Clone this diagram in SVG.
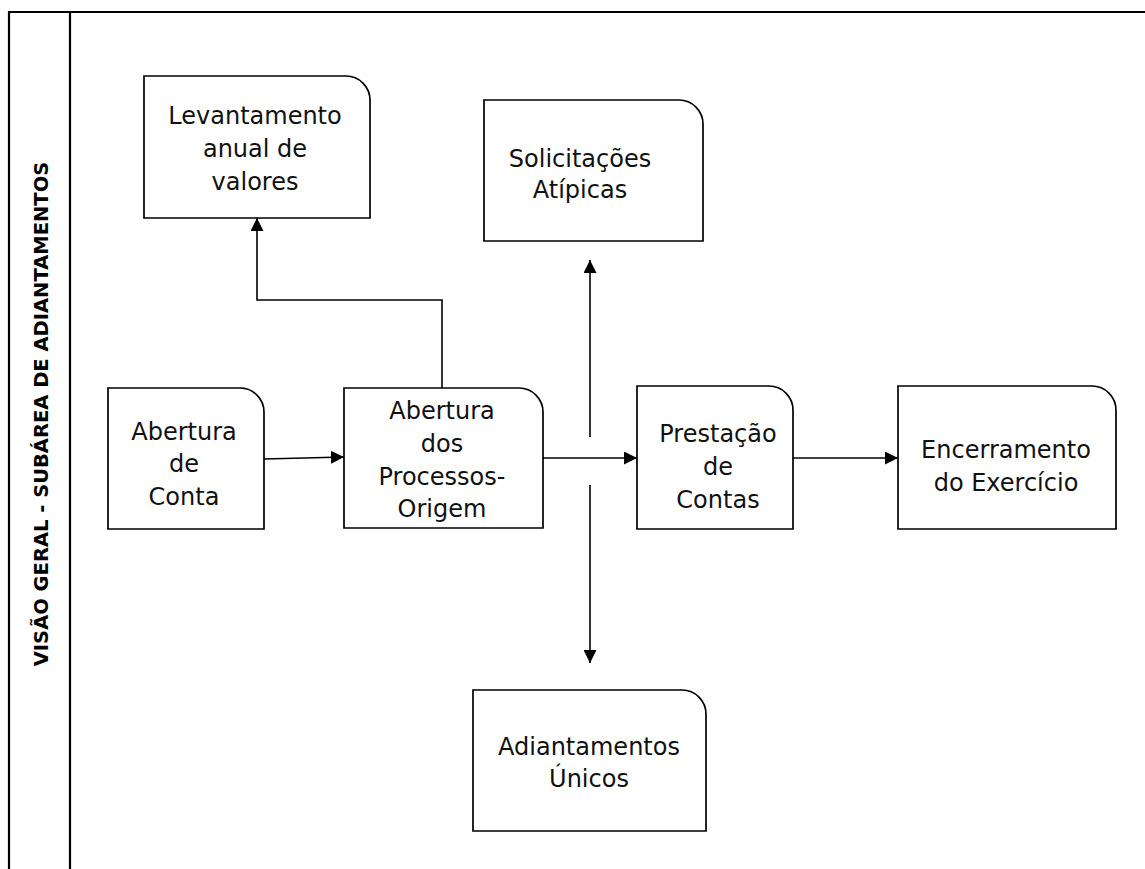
<svg xmlns="http://www.w3.org/2000/svg" width="1145" height="869" viewBox="0 0 1145 869">
  <style>
    .frame { fill: none; stroke: #000; stroke-width: 2.2; }
    .box { fill: #fff; stroke: #000; stroke-width: 1.7; }
    .lbl { font-family: "DejaVu Sans", "Liberation Sans", sans-serif; font-size: 24px; fill: #111; text-anchor: middle; }
    .title { font-family: "DejaVu Sans", "Liberation Sans", sans-serif; font-size: 19.5px; font-weight: bold; fill: #000; text-anchor: middle; }
    .wire { fill: none; stroke: #000; stroke-width: 1.6; }
  </style>
  <defs>
    <marker id="arrow" viewBox="0 0 10 10" refX="10" refY="5" markerWidth="13" markerHeight="13" markerUnits="userSpaceOnUse" orient="auto">
      <path d="M0,0 L10,5 L0,10 Z" fill="#000"/>
    </marker>
  </defs>

  <rect width="1145" height="869" fill="#fff"/>

  <!-- swimlane frame -->
  <g id="lane">
    <path class="frame" d="M9,869 V12 H1145"/>
    <line class="frame" x1="70" y1="12" x2="70" y2="869"/>
    <text class="title" transform="translate(48,414) rotate(-90)">VISÃO GERAL - SUBÁREA DE ADIANTAMENTOS</text>
  </g>

  <!-- connectors -->
  <g id="connectors">
    <path class="wire" d="M264,459 L344,457" marker-end="url(#arrow)"/>
    <path class="wire" d="M543,458 L637,458" marker-end="url(#arrow)"/>
    <path class="wire" d="M793,458 L898,458" marker-end="url(#arrow)"/>
    <path class="wire" d="M442,388 V300 H257 V218" marker-end="url(#arrow)"/>
    <path class="wire" d="M590,437 V260" marker-end="url(#arrow)"/>
    <path class="wire" d="M590,485 V663" marker-end="url(#arrow)"/>
  </g>

  <g id="levantamento">
    <path class="box" d="M144,76 H346 A24,24 0 0 1 370,100 V218 H144 Z"/>
    <text class="lbl" x="255" y="124">Levantamento</text>
    <text class="lbl" x="255" y="157">anual de</text>
    <text class="lbl" x="255" y="190">valores</text>
  </g>

  <g id="solicitacoes">
    <path class="box" d="M484,100 H679 A24,24 0 0 1 703,124 V241 H484 Z"/>
    <text class="lbl" x="580" y="167">Solicitações</text>
    <text class="lbl" x="580" y="198">Atípicas</text>
  </g>

  <g id="abertura-conta">
    <path class="box" d="M108,388 H240 A24,24 0 0 1 264,412 V529 H108 Z"/>
    <text class="lbl" x="184" y="440">Abertura</text>
    <text class="lbl" x="184" y="472">de</text>
    <text class="lbl" x="184" y="505">Conta</text>
  </g>

  <g id="abertura-processos">
    <path class="box" d="M344,388 H519 A24,24 0 0 1 543,412 V528 H344 Z"/>
    <text class="lbl" x="442" y="419">Abertura</text>
    <text class="lbl" x="442" y="452">dos</text>
    <text class="lbl" x="442" y="485">Processos-</text>
    <text class="lbl" x="442" y="517">Origem</text>
  </g>

  <g id="prestacao">
    <path class="box" d="M637,386 H769 A24,24 0 0 1 793,410 V529 H637 Z"/>
    <text class="lbl" x="718" y="442">Prestação</text>
    <text class="lbl" x="718" y="475">de</text>
    <text class="lbl" x="718" y="508">Contas</text>
  </g>

  <g id="encerramento">
    <path class="box" d="M898,386 H1092 A24,24 0 0 1 1116,410 V529 H898 Z"/>
    <text class="lbl" x="1006" y="458">Encerramento</text>
    <text class="lbl" x="1006" y="491">do Exercício</text>
  </g>

  <g id="adiantamentos">
    <path class="box" d="M473,690 H682 A24,24 0 0 1 706,714 V831 H473 Z"/>
    <text class="lbl" x="589" y="755">Adiantamentos</text>
    <text class="lbl" x="589" y="787">Únicos</text>
  </g>
</svg>
